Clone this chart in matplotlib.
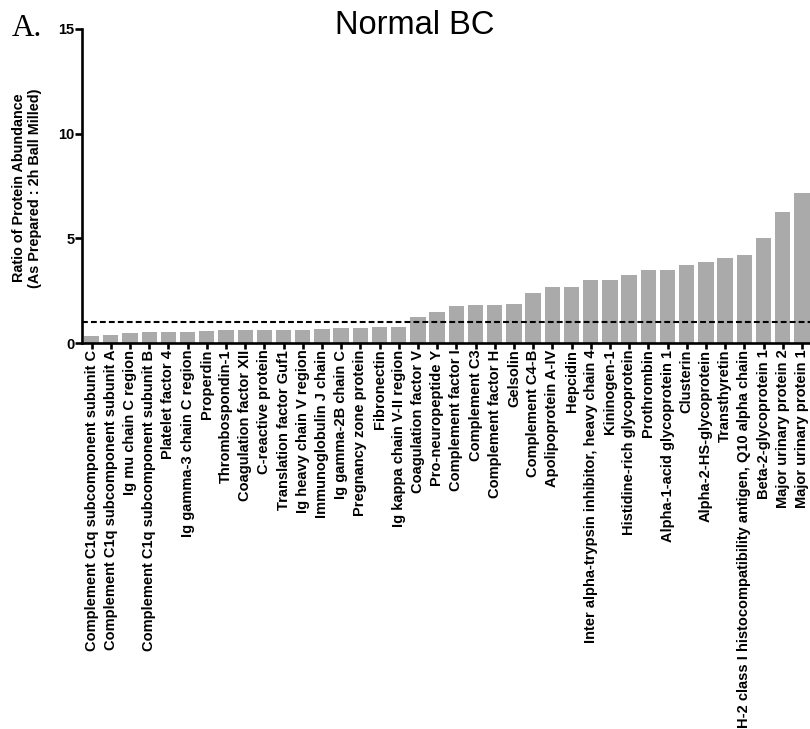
import numpy as np
import matplotlib
matplotlib.use("Agg")
from matplotlib import pyplot as plt

# proteins, sorted by ratio
proteins = [
    "Complement C1q subcomponent subunit C",
    "Complement C1q subcomponent subunit A",
    "Ig mu chain C region",
    "Complement C1q subcomponent subunit B",
    "Platelet factor 4",
    "Ig gamma-3 chain C region",
    "Properdin",
    "Thrombospondin-1",
    "Coagulation factor XII",
    "C-reactive protein",
    "Translation factor Guf1",
    "Ig heavy chain V region",
    "Immunoglobulin J chain",
    "Ig gamma-2B chain C",
    "Pregnancy zone protein",
    "Fibronectin",
    "Ig kappa chain V-II region",
    "Coagulation factor V",
    "Pro-neuropeptide Y",
    "Complement factor I",
    "Complement C3",
    "Complement factor H",
    "Gelsolin",
    "Complement C4-B",
    "Apolipoprotein A-IV",
    "Hepcidin",
    "Inter alpha-trypsin inhibitor, heavy chain 4",
    "Kininogen-1",
    "Histidine-rich glycoprotein",
    "Prothrombin",
    "Alpha-1-acid glycoprotein 1",
    "Clusterin",
    "Alpha-2-HS-glycoprotein",
    "Transthyretin",
    "H-2 class I histocompatibility antigen, Q10 alpha chain",
    "Beta-2-glycoprotein 1",
    "Major urinary protein 2",
    "Major urinary protein 1",
]

ratio = [0.33, 0.38, 0.49, 0.51, 0.53, 0.54, 0.59, 0.60, 0.60, 0.60,
         0.61, 0.62, 0.67, 0.72, 0.72, 0.76, 0.76, 1.24, 1.48, 1.75,
         1.82, 1.82, 1.88, 2.37, 2.69, 2.69, 2.99, 2.99, 3.26, 3.50,
         3.50, 3.74, 3.89, 4.05, 4.20, 5.03, 6.27, 7.18]

yticks = [0, 5, 10, 15]

plt.rcParams['font.family'] = ['Liberation Sans', 'DejaVu Sans']

fig = plt.figure(figsize=(8.1, 7.29), dpi=100)
ax = fig.add_axes([82 / 810, 1 - 343 / 729, 1 - 82 / 810, 314 / 729])

x = np.arange(len(proteins))
ax.bar(x, ratio, width=0.8, color='#aaaaaa', zorder=2)
ax.axhline(1, color='black', linestyle=(0, (2.8, 1.5)), linewidth=1.5, zorder=3)

ax.set_xlim(-0.5, 37.42)
ax.set_ylim(0, 15)
ax.set_yticks(yticks)
ax.set_yticklabels([str(t) for t in yticks], fontsize=10.5, fontweight='bold')
ax.set_xticks(x)
ax.set_xticklabels(proteins, rotation=90, fontsize=10.5, fontweight='bold')

for s in ['top', 'right']:
    ax.spines[s].set_visible(False)
for s in ['left', 'bottom']:
    ax.spines[s].set_linewidth(1.9)
ax.tick_params(axis='x', width=1.9, length=4.3, pad=0.5)
ax.tick_params(axis='y', width=1.9, length=5, pad=0.5)

# y axis title, two lines
fig.text(27 / 810, 1 - 188 / 729,
         "Ratio of Protein Abundance\n(As Prepared : 2h Ball Milled)",
         fontsize=10.4, fontweight='bold', rotation=90, linespacing=1.15,
         ha='center', va='center')

fig.text(415 / 810, 1 - 25.5 / 729, "Normal BC", fontsize=23.5,
         ha='center', va='center')
fig.text(12 / 810, 1 - 28 / 729, "A.", fontsize=22.5, family='Liberation Serif',
         ha='left', va='center')

fig.savefig("out.png", dpi=100)
